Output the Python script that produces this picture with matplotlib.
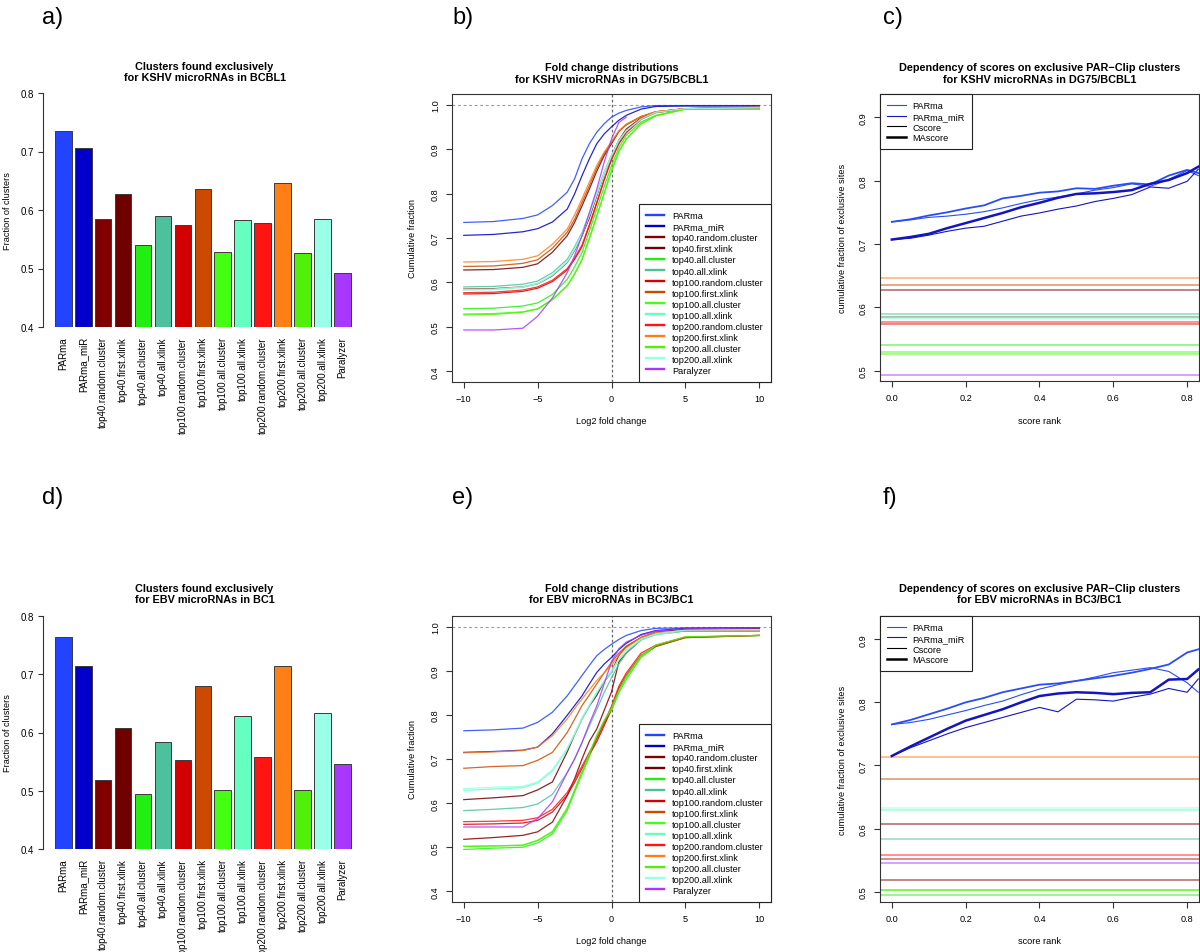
import numpy as np
import matplotlib
matplotlib.use('Agg')
import matplotlib.pyplot as plt
from matplotlib.lines import Line2D

plt.rcParams.update({
    'font.family': ['Liberation Sans', 'DejaVu Sans'],
    'font.size': 6.6,
    'axes.linewidth': 0.8,
    'axes.edgecolor': '#333333',
    'xtick.color': '#333333',
    'ytick.color': '#333333',
    'xtick.labelcolor': 'black',
    'ytick.labelcolor': 'black',
})

W, H = 1200, 953

# ---------------------------------------------------------------- data
METHODS = ['PARma', 'PARma_miR', 'top40.random.cluster', 'top40.first.xlink',
           'top40.all.cluster', 'top40.all.xlink', 'top100.random.cluster',
           'top100.first.xlink', 'top100.all.cluster', 'top100.all.xlink',
           'top200.random.cluster', 'top200.first.xlink', 'top200.all.cluster',
           'top200.all.xlink', 'Paralyzer']
METHOD_COLORS = ['#2244FF', '#0000C8', '#800000', '#6E0000', '#22EE11',
                 '#4DC09C', '#D20000', '#CC4A00', '#44FF11', '#66FFC2',
                 '#FF1414', '#FF7F17', '#50F00A', '#99FFE6', '#A838FF']

# fraction of exclusive clusters (bars, and left end of the cdf curves)
KSHV_FRACTION = [0.735, 0.706, 0.585, 0.628, 0.541, 0.590, 0.574, 0.636,
                 0.529, 0.583, 0.577, 0.646, 0.527, 0.584, 0.493]
EBV_FRACTION = [0.764, 0.715, 0.518, 0.608, 0.495, 0.583, 0.552, 0.679,
                0.502, 0.629, 0.558, 0.714, 0.502, 0.633, 0.546]

# log2 fold change positions where the cdf curves were read
LFC_KNOTS = [-10, -8, -6, -5, -4, -3, -2.5, -2, -1.5, -1, -0.5, 0, 0.5, 1, 2, 3, 5, 10]

KSHV_CDF_PARMA = [0.735, 0.737, 0.744, 0.752, 0.773, 0.803, 0.833, 0.878, 0.912, 0.938, 0.957, 0.972, 0.981, 0.987, 0.995, 0.998, 0.998, 0.998]
KSHV_CDF_PARMA_MIR = [0.706, 0.708, 0.714, 0.721, 0.736, 0.765, 0.799, 0.840, 0.878, 0.912, 0.934, 0.950, 0.965, 0.976, 0.990, 0.996, 0.997, 0.997]
KSHV_CDF_T40_RANDOM = [0.585, 0.586, 0.590, 0.597, 0.615, 0.645, 0.672, 0.705, 0.745, 0.795, 0.845, 0.885, 0.920, 0.945, 0.970, 0.983, 0.991, 0.993]
KSHV_CDF_T40_FIRST = [0.628, 0.629, 0.634, 0.642, 0.668, 0.705, 0.735, 0.772, 0.810, 0.850, 0.885, 0.912, 0.940, 0.955, 0.973, 0.984, 0.991, 0.993]
KSHV_CDF_T40_ALLCL = [0.541, 0.542, 0.547, 0.554, 0.573, 0.607, 0.635, 0.667, 0.715, 0.765, 0.815, 0.863, 0.903, 0.931, 0.961, 0.976, 0.990, 0.990]
KSHV_CDF_T40_ALLXL = [0.590, 0.591, 0.596, 0.603, 0.622, 0.652, 0.680, 0.712, 0.755, 0.803, 0.848, 0.886, 0.920, 0.942, 0.968, 0.983, 0.991, 0.993]
KSHV_CDF_T100_RANDOM = [0.574, 0.575, 0.580, 0.587, 0.602, 0.628, 0.652, 0.680, 0.727, 0.778, 0.830, 0.876, 0.912, 0.937, 0.967, 0.982, 0.991, 0.993]
KSHV_CDF_T100_FIRST = [0.636, 0.637, 0.643, 0.651, 0.677, 0.713, 0.742, 0.780, 0.818, 0.857, 0.890, 0.915, 0.940, 0.955, 0.973, 0.984, 0.991, 0.994]
KSHV_CDF_T100_ALLCL = [0.529, 0.530, 0.534, 0.541, 0.562, 0.593, 0.620, 0.652, 0.700, 0.750, 0.800, 0.852, 0.895, 0.923, 0.957, 0.975, 0.990, 0.990]
KSHV_CDF_T100_ALLXL = [0.583, 0.584, 0.589, 0.597, 0.616, 0.646, 0.674, 0.707, 0.750, 0.798, 0.845, 0.884, 0.918, 0.940, 0.967, 0.982, 0.991, 0.993]
KSHV_CDF_T200_RANDOM = [0.577, 0.578, 0.583, 0.590, 0.605, 0.631, 0.655, 0.684, 0.730, 0.780, 0.832, 0.878, 0.914, 0.938, 0.968, 0.983, 0.991, 0.993]
KSHV_CDF_T200_FIRST = [0.646, 0.647, 0.652, 0.660, 0.686, 0.720, 0.752, 0.788, 0.826, 0.863, 0.893, 0.917, 0.941, 0.956, 0.973, 0.984, 0.991, 0.994]
KSHV_CDF_T200_ALLCL = [0.527, 0.528, 0.533, 0.540, 0.561, 0.592, 0.618, 0.650, 0.698, 0.748, 0.800, 0.850, 0.894, 0.922, 0.957, 0.975, 0.990, 0.990]
KSHV_CDF_T200_ALLXL = [0.584, 0.585, 0.590, 0.598, 0.617, 0.647, 0.675, 0.708, 0.752, 0.800, 0.846, 0.885, 0.919, 0.941, 0.968, 0.983, 0.991, 0.993]
KSHV_CDF_PARALYZER = [0.493, 0.493, 0.497, 0.524, 0.565, 0.622, 0.660, 0.705, 0.757, 0.810, 0.870, 0.923, 0.960, 0.972, np.nan, np.nan, np.nan, np.nan]

EBV_CDF_PARMA = [0.764, 0.766, 0.770, 0.783, 0.806, 0.843, 0.866, 0.889, 0.912, 0.934, 0.948, 0.960, 0.971, 0.980, 0.991, 0.996, 0.997, 0.997]
EBV_CDF_PARMA_MIR = [0.715, 0.717, 0.720, 0.727, 0.757, 0.799, 0.821, 0.843, 0.870, 0.896, 0.915, 0.930, 0.948, 0.962, 0.982, 0.991, 0.996, 0.997]
EBV_CDF_T40_RANDOM = [0.518, 0.522, 0.527, 0.535, 0.557, 0.617, 0.655, 0.700, 0.740, 0.768, 0.810, 0.852, 0.920, 0.940, 0.970, 0.985, 0.990, 0.990]
EBV_CDF_T40_FIRST = [0.608, 0.612, 0.617, 0.630, 0.648, 0.716, 0.755, 0.791, 0.820, 0.844, 0.875, 0.897, 0.935, 0.955, 0.975, 0.988, 0.994, 0.995]
EBV_CDF_T40_ALLCL = [0.495, 0.498, 0.500, 0.510, 0.530, 0.583, 0.625, 0.665, 0.705, 0.748, 0.780, 0.810, 0.850, 0.880, 0.930, 0.955, 0.975, 0.980]
EBV_CDF_T40_ALLXL = [0.583, 0.586, 0.590, 0.598, 0.620, 0.669, 0.700, 0.737, 0.775, 0.812, 0.850, 0.884, 0.915, 0.940, 0.970, 0.982, 0.990, 0.992]
EBV_CDF_T100_RANDOM = [0.552, 0.553, 0.555, 0.561, 0.580, 0.618, 0.647, 0.678, 0.710, 0.739, 0.775, 0.814, 0.860, 0.890, 0.935, 0.955, 0.975, 0.980]
EBV_CDF_T100_FIRST = [0.679, 0.683, 0.685, 0.697, 0.715, 0.760, 0.790, 0.821, 0.845, 0.870, 0.895, 0.919, 0.940, 0.955, 0.975, 0.985, 0.990, 0.990]
EBV_CDF_T100_ALLCL = [0.502, 0.503, 0.504, 0.515, 0.534, 0.587, 0.628, 0.669, 0.710, 0.752, 0.785, 0.813, 0.853, 0.885, 0.932, 0.957, 0.976, 0.980]
EBV_CDF_T100_ALLXL = [0.629, 0.632, 0.635, 0.646, 0.673, 0.722, 0.755, 0.790, 0.820, 0.850, 0.875, 0.896, 0.925, 0.945, 0.970, 0.982, 0.990, 0.990]
EBV_CDF_T200_RANDOM = [0.558, 0.559, 0.561, 0.567, 0.586, 0.624, 0.653, 0.684, 0.715, 0.745, 0.782, 0.820, 0.865, 0.895, 0.940, 0.958, 0.976, 0.980]
EBV_CDF_T200_FIRST = [0.714, 0.716, 0.719, 0.727, 0.753, 0.791, 0.814, 0.836, 0.857, 0.878, 0.895, 0.912, 0.935, 0.952, 0.975, 0.987, 0.990, 0.990]
EBV_CDF_T200_ALLCL = [0.502, 0.503, 0.505, 0.516, 0.536, 0.589, 0.630, 0.671, 0.712, 0.754, 0.787, 0.815, 0.855, 0.887, 0.934, 0.958, 0.977, 0.980]
EBV_CDF_T200_ALLXL = [0.633, 0.636, 0.638, 0.648, 0.676, 0.725, 0.758, 0.793, 0.823, 0.853, 0.878, 0.899, 0.928, 0.948, 0.972, 0.984, 0.992, 0.993]
EBV_CDF_PARALYZER = [0.546, 0.546, 0.546, 0.565, 0.603, 0.669, 0.700, 0.737, 0.780, 0.820, 0.870, 0.920, 0.950, 0.965, 0.980, 0.990, 0.995, 0.997]

# score rank positions where the cumulative exclusive fractions were read
RANK_KNOTS = [0.0, 0.05, 0.1, 0.15, 0.2, 0.25, 0.3, 0.35, 0.4, 0.45, 0.5, 0.55, 0.6, 0.65, 0.7, 0.75, 0.8, 0.83]

KSHV_RANK_PARMA_MA = [0.735, 0.739, 0.745, 0.750, 0.756, 0.761, 0.772, 0.776, 0.781, 0.783, 0.788, 0.787, 0.792, 0.796, 0.794, 0.808, 0.817, 0.812]
KSHV_RANK_PARMA_C = [0.735, 0.738, 0.742, 0.744, 0.747, 0.751, 0.757, 0.764, 0.770, 0.774, 0.779, 0.785, 0.789, 0.795, 0.791, 0.802, 0.816, 0.808]
KSHV_RANK_MIR_MA = [0.707, 0.711, 0.716, 0.725, 0.733, 0.741, 0.749, 0.758, 0.765, 0.773, 0.779, 0.780, 0.782, 0.785, 0.795, 0.801, 0.812, 0.822]
KSHV_RANK_MIR_C = [0.707, 0.709, 0.714, 0.720, 0.725, 0.728, 0.736, 0.744, 0.749, 0.755, 0.760, 0.767, 0.772, 0.778, 0.790, 0.788, 0.799, 0.818]

EBV_RANK_PARMA_MA = [0.765, 0.772, 0.781, 0.790, 0.800, 0.807, 0.816, 0.822, 0.828, 0.830, 0.834, 0.838, 0.842, 0.847, 0.853, 0.860, 0.879, 0.884]
EBV_RANK_PARMA_C = [0.765, 0.768, 0.773, 0.780, 0.787, 0.795, 0.802, 0.812, 0.821, 0.828, 0.834, 0.840, 0.847, 0.851, 0.855, 0.849, 0.831, 0.816]
EBV_RANK_MIR_MA = [0.715, 0.730, 0.744, 0.758, 0.771, 0.780, 0.789, 0.800, 0.810, 0.814, 0.816, 0.815, 0.813, 0.815, 0.816, 0.836, 0.837, 0.852]
EBV_RANK_MIR_C = [0.715, 0.728, 0.739, 0.750, 0.760, 0.768, 0.776, 0.784, 0.792, 0.785, 0.805, 0.804, 0.802, 0.808, 0.813, 0.822, 0.816, 0.837]

PARMA_LINE = '#2B4CF2'
PARMA_MIR_LINE = '#1414C0'

KSHV_CDF = [KSHV_CDF_PARMA, KSHV_CDF_PARMA_MIR, KSHV_CDF_T40_RANDOM, KSHV_CDF_T40_FIRST,
            KSHV_CDF_T40_ALLCL, KSHV_CDF_T40_ALLXL, KSHV_CDF_T100_RANDOM, KSHV_CDF_T100_FIRST,
            KSHV_CDF_T100_ALLCL, KSHV_CDF_T100_ALLXL, KSHV_CDF_T200_RANDOM, KSHV_CDF_T200_FIRST,
            KSHV_CDF_T200_ALLCL, KSHV_CDF_T200_ALLXL, KSHV_CDF_PARALYZER]
EBV_CDF = [EBV_CDF_PARMA, EBV_CDF_PARMA_MIR, EBV_CDF_T40_RANDOM, EBV_CDF_T40_FIRST,
           EBV_CDF_T40_ALLCL, EBV_CDF_T40_ALLXL, EBV_CDF_T100_RANDOM, EBV_CDF_T100_FIRST,
           EBV_CDF_T100_ALLCL, EBV_CDF_T100_ALLXL, EBV_CDF_T200_RANDOM, EBV_CDF_T200_FIRST,
           EBV_CDF_T200_ALLCL, EBV_CDF_T200_ALLXL, EBV_CDF_PARALYZER]

fig = plt.figure(figsize=(W / 100, H / 100), dpi=100)


def px_axes(x0, y0, x1, y1):
    # axes placed from pixel box (top-left origin)
    return fig.add_axes([x0 / W, 1 - y1 / H, (x1 - x0) / W, (y1 - y0) / H])


def px_text(x, y, s, **kw):
    fig.text(x / W, 1 - y / H, s, **kw)


def title(cx, cy, s):
    px_text(cx, cy, s, ha='center', va='center', fontsize=7.8,
            fontweight='bold', linespacing=1.15)


def fmt1(vals):
    return ['%.1f' % v for v in vals]


def bar_panel(box, values, ttl, ty):
    ax = px_axes(*box)
    xpos = 0.7 + 1.2 * np.arange(len(METHODS))
    ax.bar(xpos, np.array(values) - 0.4, bottom=0.4, width=1.0,
           color=METHOD_COLORS, edgecolor='#3a3a3a', linewidth=0.7)
    ax.set_xlim(-0.52, 18.92)
    ax.set_ylim(0.4, 0.8)
    for s in ['top', 'right', 'bottom']:
        ax.spines[s].set_visible(False)
    ax.spines['left'].set_bounds(0.4, 0.8)
    ax.set_xticks(xpos, METHODS, rotation=90)
    ax.tick_params(axis='x', length=0, pad=6.5, labelsize=7.0)
    yt = [0.4, 0.5, 0.6, 0.7, 0.8]
    ax.set_yticks(yt, fmt1(yt))
    ax.tick_params(axis='y', length=3.6, width=0.8, pad=3, labelsize=7.0)
    ax.set_ylabel('Fraction of clusters', fontsize=6.6)
    ax.yaxis.set_label_coords(-0.11, 0.5)
    ax.yaxis.label.set_va('center')
    title((box[0] + box[2]) / 2, ty, ttl)
    return ax


def frame_axes(ax, xlab, ylab, lx, ly):
    ax.tick_params(direction='out', length=4, width=0.8, pad=4.7, labelsize=6.6)
    ax.tick_params(axis='y', labelrotation=90)
    for t in ax.get_yticklabels():
        t.set_va('center')
    ax.set_xlabel(xlab, fontsize=6.6)
    ax.set_ylabel(ylab, fontsize=6.6)
    ax.xaxis.set_label_coords(0.5, lx)
    ax.yaxis.set_label_coords(ly, 0.5)
    ax.xaxis.label.set_va('center')
    ax.yaxis.label.set_va('center')


def cdf_panel(box, curves, ttl, ty, lx):
    ax = px_axes(*box)
    ax.axhline(1.0, color='#9a9a9a', lw=0.8, dashes=(2.5, 2.5))
    ax.axvline(0.0, color='#666666', lw=0.9, dashes=(2.2, 1.8))
    for vals, col in zip(curves, METHOD_COLORS):
        ax.plot(LFC_KNOTS, vals, color=col, lw=0.9, alpha=0.85)
    ax.set_xlim(-10.8, 10.8)
    ax.set_ylim(0.376, 1.024)
    ax.set_xticks([-10, -5, 0, 5, 10])
    yt = [0.4, 0.5, 0.6, 0.7, 0.8, 0.9, 1.0]
    ax.set_yticks(yt, fmt1(yt))
    frame_axes(ax, 'Log2 fold change', 'Cumulative fraction', lx, -0.125)
    handles = [Line2D([], [], color=c, lw=1.7) for c in METHOD_COLORS]
    ax.legend(handles, METHODS, loc='lower right', borderaxespad=0,
              fontsize=6.6, frameon=True, fancybox=False, framealpha=1,
              edgecolor='#222222', handlelength=1.95, handletextpad=0.85,
              borderpad=0.8, labelspacing=0.22)
    ax.get_legend().get_frame().set_linewidth(0.8)
    title((box[0] + box[2]) / 2, ty, ttl)
    return ax


def rank_panel(box, fractions, parma_ma, parma_c, mir_ma, mir_c, ttl, ty, lx):
    ax = px_axes(*box)
    for v, col in zip(fractions[2:], METHOD_COLORS[2:]):
        ax.axhline(v, color=col, lw=1.1, alpha=0.6)
    ax.plot(RANK_KNOTS, parma_c, color=PARMA_LINE, lw=0.8)
    ax.plot(RANK_KNOTS, mir_c, color=PARMA_MIR_LINE, lw=0.8)
    ax.plot(RANK_KNOTS, parma_ma, color=PARMA_LINE, lw=1.3)
    ax.plot(RANK_KNOTS, mir_ma, color=PARMA_MIR_LINE, lw=1.8)
    ax.set_xlim(-0.032, 0.832)
    ax.set_ylim(0.4837, 0.9368)
    xt = [0.0, 0.2, 0.4, 0.6, 0.8]
    ax.set_xticks(xt, fmt1(xt))
    yt = [0.5, 0.6, 0.7, 0.8, 0.9]
    ax.set_yticks(yt, fmt1(yt))
    frame_axes(ax, 'score rank', 'cumulative fraction of exclusive sites', lx, -0.119)
    handles = [Line2D([], [], color=PARMA_LINE, lw=0.8),
               Line2D([], [], color=PARMA_MIR_LINE, lw=0.8),
               Line2D([], [], color='black', lw=0.8),
               Line2D([], [], color='black', lw=1.8)]
    ax.legend(handles, ['PARma', 'PARma_miR', 'Cscore', 'MAscore'], loc='upper left',
              borderaxespad=0, fontsize=6.6, frameon=True, fancybox=False,
              framealpha=1, edgecolor='#222222', handlelength=2.05,
              handletextpad=0.75, borderpad=0.75, labelspacing=0.2)
    ax.get_legend().get_frame().set_linewidth(0.8)
    title((box[0] + box[2]) / 2, ty, ttl)
    return ax


# ---------------------------------------------------------------- top row (KSHV)
bar_panel((43, 94, 366, 328), KSHV_FRACTION,
          'Clusters found exclusively\nfor KSHV microRNAs in BCBL1', 72.5)
cdf_panel((452, 95, 771, 383), KSHV_CDF,
          'Fold change distributions\nfor KSHV microRNAs in DG75/BCBL1', 74, -0.132)
rank_panel((880, 95, 1199, 382), KSHV_FRACTION, KSHV_RANK_PARMA_MA, KSHV_RANK_PARMA_C,
           KSHV_RANK_MIR_MA, KSHV_RANK_MIR_C,
           'Dependency of scores on exclusive PAR\u2212Clip clusters\nfor KSHV microRNAs in DG75/BCBL1',
           74, -0.136)

# ---------------------------------------------------------------- bottom row (EBV)
bar_panel((43, 617, 366, 850), EBV_FRACTION,
          'Clusters found exclusively\nfor EBV microRNAs in BC1', 594.5)
cdf_panel((452, 617, 771, 903), EBV_CDF,
          'Fold change distributions\nfor EBV microRNAs in BC3/BC1', 594.5, -0.136)
rank_panel((880, 617, 1199, 903), EBV_FRACTION, EBV_RANK_PARMA_MA, EBV_RANK_PARMA_C,
           EBV_RANK_MIR_MA, EBV_RANK_MIR_C,
           'Dependency of scores on exclusive PAR\u2212Clip clusters\nfor EBV microRNAs in BC3/BC1',
           594.5, -0.136)

# panel letters
for lab, x, y in [('a)', 42, 18), ('b)', 452, 18), ('c)', 883, 18),
                  ('d)', 42, 498), ('e)', 452, 498), ('f)', 883, 498)]:
    px_text(x, y, lab, ha='left', va='center', fontsize=17,
            family=['Liberation Sans Narrow', 'Liberation Sans', 'DejaVu Sans'])

fig.savefig('out.png', dpi=100)
